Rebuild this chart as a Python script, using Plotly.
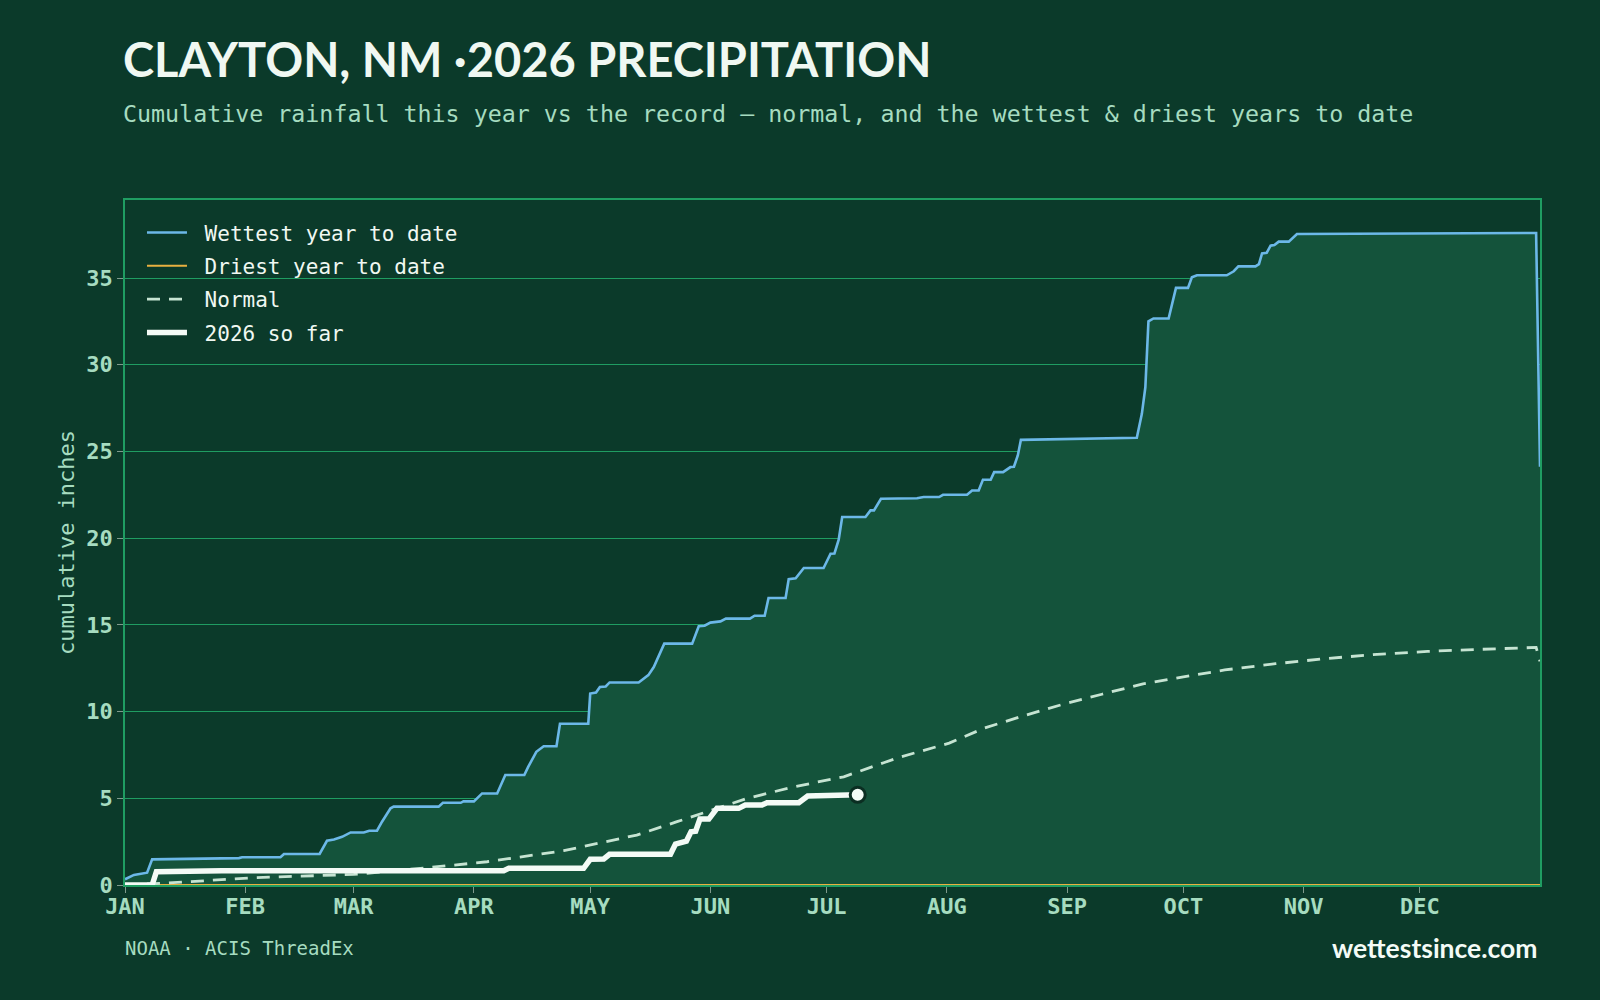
import pandas as pd
import plotly.graph_objects as go

# ---------------- data (day offset from Jan 1, cumulative inches) ----------------
wettest_days = [0, 2.3, 5.7, 7, 29.4, 30.2, 40.1, 41, 50.2, 52.1, 53.9, 56, 58.2, 61.6, 63, 65, 66.3,
                68.5, 69.3, 80.9, 82, 86.6, 87.3, 90, 92.1, 96, 98.1, 103, 104, 106.1, 108, 111.3, 112.2,
                119.5, 120, 121.5, 122.5, 124, 125, 132.5, 135, 136.4, 139.1, 146.3, 148, 149.5, 151,
                153.6, 155, 161.2, 162.4, 165, 166, 170.4, 171.2, 173, 175.1, 180.2, 182, 183, 184.1,
                185, 191, 192.3, 193.2, 195, 204.3, 206, 210, 211, 217.2, 218.5, 220.2, 221.3, 223.3,
                224.2, 226.5, 228.4, 229.3, 230.3, 231.1, 240.4, 261, 262.3, 263.2, 264, 265.3, 269.2,
                271.1, 274.2, 275.2, 276.5, 284.2, 286, 287.2, 291.6, 292.5, 293.3, 294.5, 295.5,
                296.5, 297.6, 300.2, 302.3, 364, 365]
wettest_vals = [0.33, 0.58, 0.71, 1.48, 1.55, 1.6, 1.6, 1.79, 1.79, 2.55, 2.62, 2.78, 3.03, 3.03, 3.13,
                3.13, 3.65, 4.42, 4.52, 4.52, 4.74, 4.74, 4.82, 4.82, 5.28, 5.28, 6.34, 6.34, 6.81, 7.68,
                8.0, 8.0, 9.3, 9.3, 11.04, 11.1, 11.42, 11.45, 11.68, 11.68, 12.1, 12.57, 13.92, 13.92,
                14.92, 14.95, 15.13, 15.2, 15.36, 15.36, 15.53, 15.53, 16.55, 16.55, 17.63, 17.68, 18.28,
                18.28, 19.1, 19.12, 19.91, 21.22, 21.22, 21.6, 21.6, 22.27, 22.3, 22.37, 22.37, 22.5,
                22.5, 22.75, 22.75, 23.37, 23.37, 23.81, 23.81, 24.1, 24.12, 24.77, 25.67, 25.71, 25.79,
                27.17, 28.7, 32.5, 32.67, 32.67, 34.43, 34.43, 35.04, 35.16, 35.16, 35.39, 35.67, 35.67,
                35.8, 36.42, 36.45, 36.87, 36.9, 37.1, 37.1, 37.54, 37.6, 24.12]

driest_days = [0, 365]
driest_vals = [0, 0]

normal_days = [0, 10, 33, 59, 79, 93.4, 113.2, 132, 142.4, 149.3, 160.4, 172.5, 185.4, 195.7, 199.5,
               212.6, 221.8, 231, 241.6, 252, 262.6, 273, 283.7, 296.8, 310, 323, 336, 349.5, 362, 364, 365]
normal_vals = [0.0, 0.1, 0.42, 0.61, 1.02, 1.34, 1.98, 2.88, 3.65, 4.17, 4.99, 5.66, 6.24, 7.05, 7.35,
               8.18, 9.06, 9.7, 10.4, 11.0, 11.6, 12.0, 12.4, 12.76, 13.06, 13.3, 13.47, 13.59, 13.7,
               13.7, 12.9]

sofar_days = [0, 7, 8.1, 15, 25, 97.7, 99, 118.3, 120, 123.5, 125, 140.7, 142, 144.8, 146, 147.2,
              148.3, 150.6, 152.7, 158.3, 160, 164.3, 165.6, 173.8, 176.1, 189]
sofar_vals = [0, 0, 0.77, 0.78, 0.82, 0.82, 0.96, 0.96, 1.48, 1.5, 1.77, 1.77, 2.36, 2.53, 3.07, 3.1,
              3.8, 3.8, 4.42, 4.42, 4.61, 4.61, 4.74, 4.74, 5.13, 5.2]

month_days = [0, 31, 59, 90, 120, 151, 181, 212, 243, 273, 304, 334]
month_labels = ["JAN", "FEB", "MAR", "APR", "MAY", "JUN", "JUL", "AUG", "SEP", "OCT", "NOV", "DEC"]

base = pd.Timestamp("2026-01-01")


def to_dates(days):
    return [base + pd.Timedelta(days=float(d)) for d in days]


# ---------------- styling ----------------
BG = "#0b3a2a"
GRID = "#1f9d62"
TICK = "#a6dcc0"
MONO = "DejaVu Sans Mono"
SANS = "Lato"
NB = "\u00a0"

fig = go.Figure()

# fill below wettest (on base axis, under the gridlines of the overlay axis)
fig.add_trace(go.Scatter(x=to_dates(wettest_days), y=wettest_vals, mode="lines",
                         line=dict(width=0), fill="tozeroy", fillcolor="#14533b",
                         hoverinfo="skip", showlegend=False, yaxis="y"))

fig.add_trace(go.Scatter(x=to_dates(wettest_days), y=wettest_vals, mode="lines",
                         name=NB + "Wettest year to date", line=dict(color="#6cb8e8", width=2.6),
                         legendgroup="a", yaxis="y2"))
fig.add_trace(go.Scatter(x=to_dates(driest_days), y=driest_vals, mode="lines",
                         name=NB + "Driest year to date", line=dict(color="#e8b040", width=2),
                         legendgroup="b", yaxis="y2"))
fig.add_trace(go.Scatter(x=to_dates(normal_days), y=normal_vals, mode="lines",
                         name=NB + "Normal", line=dict(color="#c6e4d2", width=2.8, dash="13px,9px"),
                         legendgroup="c", yaxis="y2"))
fig.add_trace(go.Scatter(x=to_dates(sofar_days), y=sofar_vals, mode="lines",
                         name=NB + "2026 so far", line=dict(color="#f4fbf6", width=5.5),
                         legendgroup="d", yaxis="y2"))
fig.add_trace(go.Scatter(x=to_dates(sofar_days[-1:]), y=sofar_vals[-1:], mode="markers",
                         marker=dict(color="#f4fbf6", size=15, line=dict(color="#0b2e22", width=3)),
                         showlegend=False, hoverinfo="skip", yaxis="y2"))

yrange = [0, 39.5]
xr = [base, base + pd.Timedelta(days=365)]

fig.update_layout(
    width=1600, height=1000,
    paper_bgcolor=BG, plot_bgcolor=BG,
    margin=dict(l=125, r=60, t=200, b=115),
    showlegend=True,
    legend=dict(x=0.012, y=0.982, xanchor="left", yanchor="top",
                bgcolor="rgba(0,0,0,0)", font=dict(family=MONO, size=21, color="#f0f8f2"),
                tracegroupgap=3, itemwidth=40),
    xaxis=dict(type="date", range=xr, tickvals=to_dates(month_days), ticktext=month_labels,
               tickfont=dict(family=MONO, size=22, color=TICK, weight="bold"),
               ticks="outside", ticklen=6, tickcolor="#7f9a8c", ticklabelstandoff=-5,
               showgrid=False, zeroline=False,
               showline=True, linecolor=GRID, linewidth=1.5, mirror=True),
    yaxis=dict(range=yrange, tickvals=[0, 5, 10, 15, 20, 25, 30, 35],
               tickfont=dict(family=MONO, size=22, color=TICK, weight="bold"),
               ticks="outside", ticklen=6, tickcolor="#7f9a8c",
               showgrid=False, zeroline=False,
               showline=True, linecolor=GRID, linewidth=1.5, mirror=True,
               title=dict(text="cumulative inches", standoff=6,
                          font=dict(family=MONO, size=22, color=TICK))),
    yaxis2=dict(range=yrange, overlaying="y", side="left", anchor="x",
                tickvals=[5, 10, 15, 20, 25, 30, 35], showticklabels=False,
                showgrid=True, gridcolor=GRID, gridwidth=1.4, zeroline=False, showline=False),
)

# title, subtitle, footer
fig.add_annotation(text="<b>CLAYTON, NM ·2026 PRECIPITATION</b>", xref="paper", yref="paper",
                   x=-0.003, y=1.206, xanchor="left", yanchor="middle", showarrow=False,
                   font=dict(family=SANS, size=47, color="#f0f8f2"))
fig.add_annotation(text="Cumulative rainfall this year vs the record — normal, and the wettest & driest years to date",
                   xref="paper", yref="paper", x=-0.003, y=1.127, xanchor="left", yanchor="middle",
                   showarrow=False, font=dict(family=MONO, size=23.3, color=TICK))
fig.add_annotation(text="NOAA · ACIS ThreadEx", xref="paper", yref="paper", x=-0.0015, y=-0.092,
                   xanchor="left", yanchor="middle", showarrow=False,
                   font=dict(family=MONO, size=19, color=TICK))
fig.add_annotation(text="<b>wettestsince.com</b>", xref="paper", yref="paper", x=1.0, y=-0.092,
                   xanchor="right", yanchor="middle", showarrow=False,
                   font=dict(family=SANS, size=26.5, color="#f4fbf6"))

fig.write_html("out.html")
